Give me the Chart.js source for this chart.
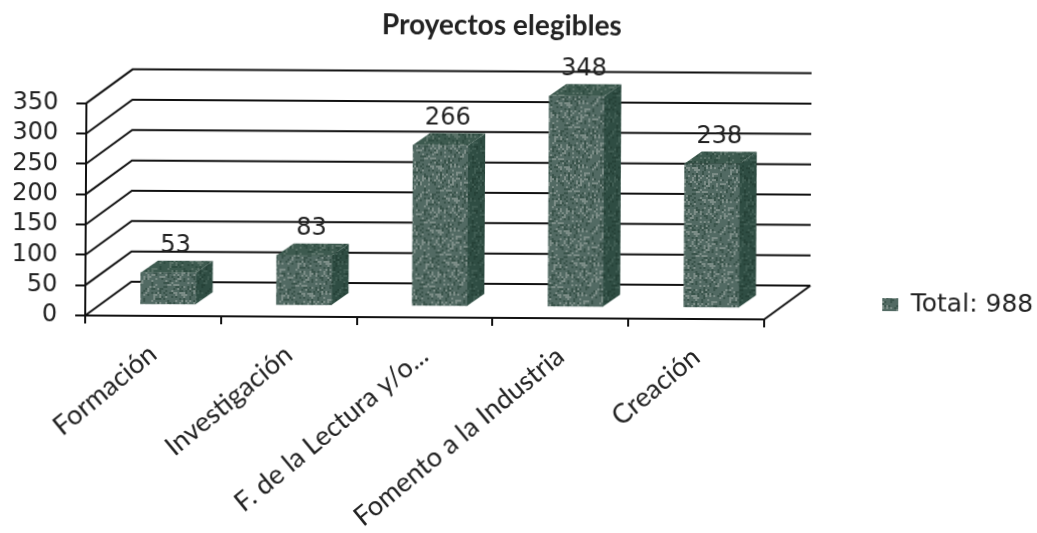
<!DOCTYPE html>
<html>
<head>
<meta charset="utf-8">
<script src="https://cdn.jsdelivr.net/npm/chart.js@4"></script>
<style>
html,body{margin:0;padding:0;background:#fff;overflow:hidden;}
#wrap{width:1037px;height:533px;transform-origin:0 0;transform:rotate(0.33deg);filter:blur(0.6px);}
</style>
</head>
<body>
<div id="wrap"><canvas id="chart" width="1037" height="533"></canvas></div>
<script>
const categories = ['Formación', 'Investigación', 'F. de la Lectura y/o...', 'Fomento a la Industria', 'Creación'];
const values = [53, 83, 266, 348, 238];
const seriesName = 'Total: 988';
const yTicks = [0, 50, 100, 150, 200, 250, 300, 350];

const lineColor = '#111';
const textColor = '#222';
const wallX = 46, wallY = -34;   // depth of the back wall
const barX = 15, barY = -11;     // bars sit a bit inside the floor
const depthX = 17, depthY = -12; // depth of each bar

// speckled fill like the scanned print
function speckle(base, light, dark) {
    const size = 64;
    const c = document.createElement('canvas');
    c.width = c.height = size;
    const g = c.getContext('2d');
    g.fillStyle = base;
    g.fillRect(0, 0, size, size);
    let h = 17;
    for (let y = 0; y < size; y += 2) {
        for (let x = 0; x < size; x += 2) {
            h = (h * 137 + 71) % 1009;
            if (h % 5 === 0) g.fillStyle = light;
            else if (h % 5 === 1) g.fillStyle = dark;
            else continue;
            g.fillRect(x, y, 2, 2);
        }
    }
    return g.createPattern(c, 'repeat');
}
const frontFill = speckle('#526a63', '#7c8d87', '#3a544b');
const sideFill = speckle('#2f4d43', '#3f5c52', '#264238');
const topFill = speckle('#3d5a4f', '#5a7268', '#2f4c41');

const wall = {
    id: 'wall',
    afterLayout(chart) {
        chart.legend.left = 874;
        chart.legend.right = 1037;
        chart.legend.bottom += 7;
        chart.titleBlock.left = 0;
        chart.titleBlock.right = 1004;
    },
    beforeDatasetsDraw(chart) {
        const ctx = chart.ctx, a = chart.chartArea, y = chart.scales.y;
        ctx.save();
        ctx.strokeStyle = lineColor;
        ctx.lineWidth = 2;
        yTicks.forEach(t => {
            const py = y.getPixelForValue(t);
            ctx.beginPath();
            ctx.moveTo(a.left, py);
            ctx.lineTo(a.left + wallX, py + wallY);
            ctx.lineTo(a.right + wallX, py + wallY);
            ctx.stroke();
        });
        ctx.beginPath();
        ctx.moveTo(a.right, a.bottom);
        ctx.lineTo(a.right + wallX, a.bottom + wallY);
        ctx.stroke();
        ctx.restore();

        ctx.save();
        ctx.translate(barX, barY);
    },
    afterDatasetsDraw(chart) {
        const ctx = chart.ctx;
        chart.getDatasetMeta(0).data.forEach(bar => {
            const l = bar.x - bar.width / 2, r = bar.x + bar.width / 2;
            ctx.fillStyle = sideFill;
            ctx.beginPath();
            ctx.moveTo(r, bar.y);
            ctx.lineTo(r + depthX, bar.y + depthY);
            ctx.lineTo(r + depthX, bar.base + depthY);
            ctx.lineTo(r, bar.base);
            ctx.closePath();
            ctx.fill();
            ctx.fillStyle = topFill;
            ctx.beginPath();
            ctx.moveTo(l, bar.y);
            ctx.lineTo(l + depthX, bar.y + depthY);
            ctx.lineTo(r + depthX, bar.y + depthY);
            ctx.lineTo(r, bar.y);
            ctx.closePath();
            ctx.fill();
        });
        ctx.restore();

        ctx.save();
        ctx.font = '24px "DejaVu Sans"';
        ctx.fillStyle = textColor;
        ctx.textAlign = 'center';
        ctx.textBaseline = 'middle';
        chart.getDatasetMeta(0).data.forEach((bar, i) => {
            ctx.fillText(values[i], bar.x + barX + 7, bar.y + barY - 27);
        });
        ctx.restore();
    }
};

new Chart(document.getElementById('chart'), {
    type: 'bar',
    plugins: [wall],
    data: {
        labels: categories,
        datasets: [{
            label: seriesName,
            data: values,
            backgroundColor: frontFill,
            barThickness: 55,
            clip: false
        }]
    },
    options: {
        responsive: false,
        animation: false,
        layout: { padding: { right: 100, top: 0, bottom: 0, left: 0 } },
        scales: {
            x: {
                afterFit(s) { s.height = 218; },
                border: { color: lineColor, width: 2 },
                grid: { drawOnChartArea: false, color: lineColor, lineWidth: 2, tickLength: 8 },
                ticks: {
                    autoSkip: false,
                    minRotation: 40,
                    maxRotation: 40,
                    color: textColor,
                    padding: 14,
                    font: { family: 'Lato', size: 27 }
                }
            },
            y: {
                min: 0,
                max: 350,
                afterFit(s) { s.width = 87; },
                afterBuildTicks(s) { s.ticks = yTicks.map(v => ({ value: v })); },
                border: { color: lineColor, width: 2 },
                grid: { drawOnChartArea: false, color: lineColor, lineWidth: 2, tickLength: 10 },
                ticks: {
                    autoSkip: false,
                    color: textColor,
                    padding: 18,
                    font: { family: 'DejaVu Sans', size: 24 }
                }
            }
        },
        plugins: {
            title: {
                display: true,
                text: 'Proyectos elegibles',
                color: textColor,
                font: { family: 'Lato', size: 28, weight: 'bold' },
                padding: { top: 6, bottom: 63 }
            },
            legend: {
                position: 'right',
                align: 'end',
                fullSize: false,
                labels: {
                    boxWidth: 16,
                    boxHeight: 13,
                    color: textColor,
                    font: { family: 'DejaVu Sans', size: 25 }
                }
            },
            tooltip: { enabled: false }
        }
    }
});
</script>
</body>
</html>
